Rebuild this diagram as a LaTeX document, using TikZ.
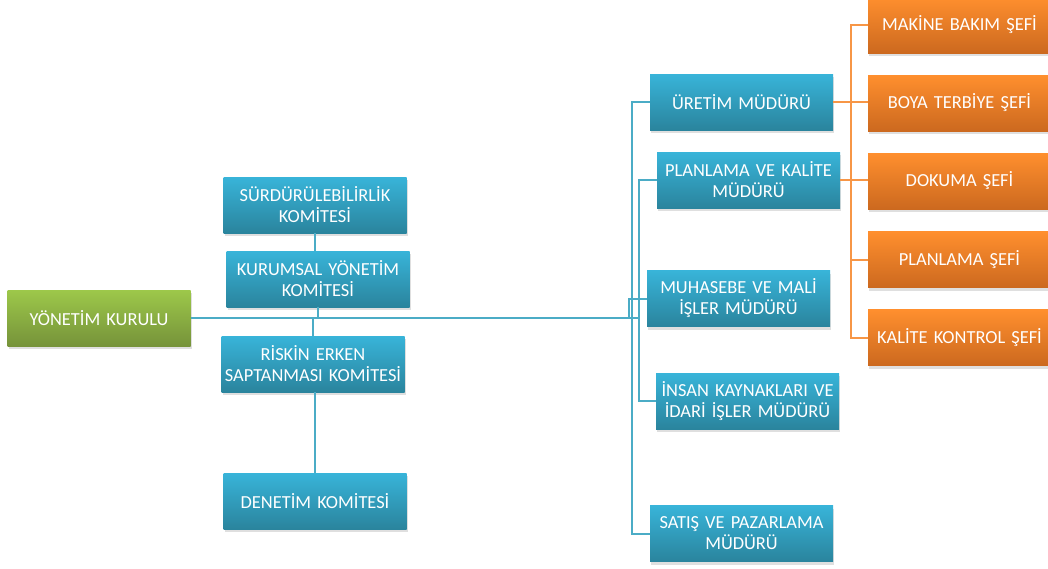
\documentclass[tikz,border=0pt]{standalone}
\usepackage{fontspec}
\setmainfont{Carlito}
\usetikzlibrary{shadows}

\definecolor{boxblueT}{HTML}{38B4D9}
\definecolor{boxblueB}{HTML}{2A849D}
\definecolor{boxgreenT}{HTML}{9DC84A}
\definecolor{boxgreenB}{HTML}{76933A}
\definecolor{boxorangeT}{HTML}{FF8F2E}
\definecolor{boxorangeB}{HTML}{CC691F}
\definecolor{linkblue}{HTML}{4BACC6}
\definecolor{linkorange}{HTML}{F79646}

\tikzset{
  unit/.style={minimum width=183pt, minimum height=56pt, text width=178pt, align=center,
    inner sep=0pt, text=white, font=\fontsize{18.4}{21}\selectfont,
    drop shadow={shadow xshift=1pt, shadow yshift=-3pt, opacity=0.25}},
  bluebox/.style={unit, top color=boxblueT, bottom color=boxblueB},
  greenbox/.style={unit, top color=boxgreenT, bottom color=boxgreenB},
  orangebox/.style={unit, top color=boxorangeT, bottom color=boxorangeB},
  bline/.style={draw=linkblue, line width=2pt},
  oline/.style={draw=linkorange, line width=2pt}
}

\begin{document}
\begin{tikzpicture}[x=1pt, y=-1pt]
\path[use as bounding box, clip] (0,0) rectangle (1048,568);

% Board and committees
\node[greenbox] (kurul) at (99, 318) {YÖNETİM KURULU};
\node[bluebox] (surdur) at (315, 205) {SÜRDÜRÜLEBİLİRLİK\\KOMİTESİ};
\node[bluebox] (kurumsal) at (318, 279) {KURUMSAL YÖNETİM\\KOMİTESİ};
\node[bluebox] (risk) at (313, 364) {RİSKİN ERKEN\\SAPTANMASI KOMİTESİ};
\node[bluebox] (denetim) at (315, 501) {DENETİM KOMİTESİ};

% Managers
\node[bluebox] (uretim) at (741.5, 102) {ÜRETİM MÜDÜRÜ};
\node[bluebox] (planlama) at (748.5, 180) {PLANLAMA VE KALİTE\\MÜDÜRÜ};
\node[bluebox] (muhasebe) at (738.5, 298.5) {MUHASEBE VE MALİ\\İŞLER MÜDÜRÜ};
\node[bluebox] (insan) at (747.5, 401) {İNSAN KAYNAKLARI VE\\İDARİ İŞLER MÜDÜRÜ};
\node[bluebox] (satis) at (741.5, 533.5) {SATIŞ VE PAZARLAMA\\MÜDÜRÜ};

% Chiefs
\node[orangebox] (makine) at (959.5, 25) {MAKİNE BAKIM ŞEFİ};
\node[orangebox] (boya) at (959.5, 103) {BOYA TERBİYE ŞEFİ};
\node[orangebox] (dokuma) at (959.5, 181) {DOKUMA ŞEFİ};
\node[orangebox] (plansef) at (959.5, 259.5) {PLANLAMA ŞEFİ};
\node[orangebox] (kalite) at (959.5, 337.5) {KALİTE KONTROL ŞEFİ};

% Junction points
\coordinate (hubA) at (629, 318);
\coordinate (hubB) at (632, 318);
\coordinate (hubC) at (639, 318);
\coordinate (obar) at (851, 25);

% Blue connectors
\draw[bline] (kurul.east) -- (hubC);
\draw[bline] (surdur.south) -- (surdur.south |- kurumsal.north);
\draw[bline] (kurumsal.south) -- (kurumsal.south |- kurul.east);
\draw[bline] (risk.north) -- (risk.north |- kurul.east);
\draw[bline] (denetim.north -| surdur.south) -- (risk.south -| surdur.south);
\draw[bline] (uretim.west) -| (hubB) |- (satis.west);
\draw[bline] (planlama.west) -| (hubC) |- (insan.west);
\draw[bline] (muhasebe.west) -| (hubA);

% Orange connectors
\draw[oline] (makine.west) -- (obar) |- (kalite.west);
\draw[oline] (uretim.east) -- (uretim.east -| boya.west);
\draw[oline] (planlama.east) -- (planlama.east -| dokuma.west);
\draw[oline] (plansef.west) -- (plansef.west -| obar);
\end{tikzpicture}
\end{document}
